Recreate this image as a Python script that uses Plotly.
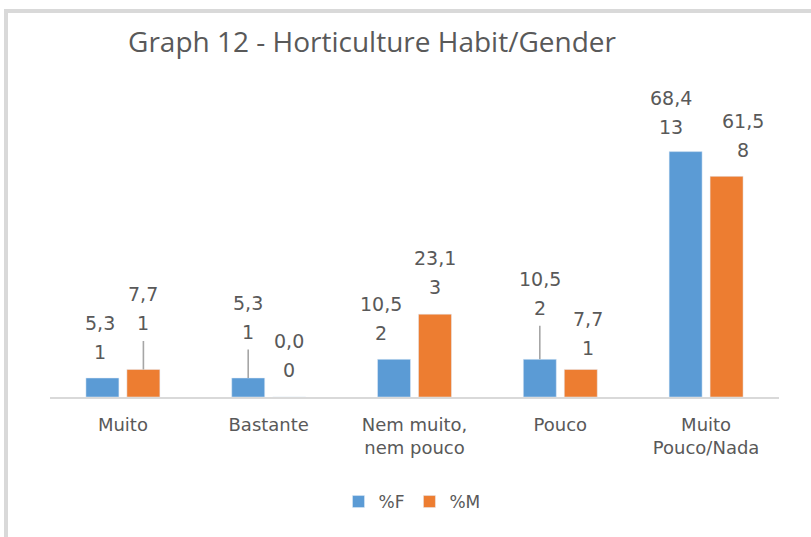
import plotly.graph_objects as go

# ---- data ----
categories = ["Muito", "Bastante", "Nem muito,<br>nem pouco", "Pouco", "Muito<br>Pouco/Nada"]
pct_f = [5.3, 5.3, 10.5, 10.5, 68.4]
pct_m = [7.7, 0.0, 23.1, 7.7, 61.5]
n_f = [1, 1, 2, 2, 13]
n_m = [1, 0, 3, 1, 8]
series_names = ["%F", "%M"]

# ---- styling / label placement (pixels) ----
W, H = 811, 537
L, R, T, B = 50, 32, 110, 140
BLUE, ORANGE, GREY_TXT = "#5B9BD5", "#ED7D31", "#595959"
bar_off = 20.5
line_gap = 29
f_lift = [26, 46, 26, 51, 25]
f_dx = [-2, 0, -13, 0, -15]
f_leader = [False, True, False, True, False]
m_lift = [46, 27, 27, 21, 26]
m_dx = [0, 0, 0, 7, 16]
m_leader = [True, False, False, False, False]

LABEL_FONT = dict(family="DejaVu Sans, Verdana, sans-serif", size=19, color=GREY_TXT)

fig = go.Figure()
fig.add_trace(go.Bar(name=series_names[0], x=categories, y=pct_f, marker_color=BLUE))
fig.add_trace(go.Bar(name=series_names[1], x=categories, y=pct_m, marker_color=ORANGE))


def fmt(v):
    return f"{v:.1f}".replace(".", ",")


annotations = []
for vals, counts, lifts, dxs, leaders, sgn in [
    (pct_f, n_f, f_lift, f_dx, f_leader, -1),
    (pct_m, n_m, m_lift, m_dx, m_leader, 1),
]:
    for cat, v, n, lift, dx, lead in zip(categories, vals, counts, lifts, dxs, leaders):
        xs = sgn * bar_off
        annotations.append(dict(
            x=cat, y=v, xref="x", yref="y", text=fmt(v), showarrow=False,
            xshift=xs + dx, yshift=lift + line_gap, yanchor="middle",
            font=LABEL_FONT,
        ))
        if lead:
            annotations.append(dict(
                x=cat, y=v, xref="x", yref="y", text=str(n), showarrow=True,
                ax=dx, ay=-lift, axref="pixel", ayref="pixel", xshift=xs,
                arrowhead=0, arrowwidth=1.6, arrowcolor="#A6A6A6",
                startstandoff=5, standoff=0, font=LABEL_FONT,
            ))
        else:
            annotations.append(dict(
                x=cat, y=v, xref="x", yref="y", text=str(n), showarrow=False,
                xshift=xs + dx, yshift=lift, yanchor="middle", font=LABEL_FONT,
            ))


def px_x(p):
    return (p - L) / (W - L - R)


def px_y(p):
    return (H - B - p) / (H - T - B)


shapes = [
    dict(type="rect", xref="paper", yref="paper", x0=px_x(4), x1=px_x(8),
         y0=px_y(H), y1=px_y(9), fillcolor="#D9D9D9", line_width=0, layer="below"),
    dict(type="rect", xref="paper", yref="paper", x0=px_x(4), x1=px_x(W + 5),
         y0=px_y(13), y1=px_y(9), fillcolor="#D9D9D9", line_width=0, layer="below"),
]

fig.update_layout(
    width=W, height=H,
    margin=dict(l=L, r=R, t=T, b=B, pad=0),
    paper_bgcolor="white", plot_bgcolor="white",
    barmode="group", bargap=0.438, bargroupgap=0.195,
    title=dict(text="Graph 12 - Horticulture Habit/Gender", xref="container", yref="container",
               x=372 / W, xanchor="center", y=1 - 42 / H, yanchor="middle",
               font=dict(family="Open Sans", size=28, color=GREY_TXT)),
    legend=dict(orientation="h", xref="container", yref="container",
                x=412 / W, xanchor="center", y=1 - 502 / H, yanchor="middle",
                font=dict(family="DejaVu Sans, Verdana, sans-serif", size=17, color=GREY_TXT),
                itemwidth=30, tracegroupgap=0),
    annotations=annotations,
    shapes=shapes,
    showlegend=True,
)
fig.update_xaxes(showline=True, linecolor="#D9D9D9", linewidth=2, showgrid=False,
                 ticks="", ticklabelstandoff=10,
                 tickfont=dict(family="DejaVu Sans, Verdana, sans-serif", size=18, color=GREY_TXT))
fig.update_yaxes(range=[0, 80], visible=False, showgrid=False, zeroline=False)

fig.write_html("out.html", config={"displayModeBar": False},
               post_script="document.body.style.margin='0';document.body.style.overflow='hidden';")
